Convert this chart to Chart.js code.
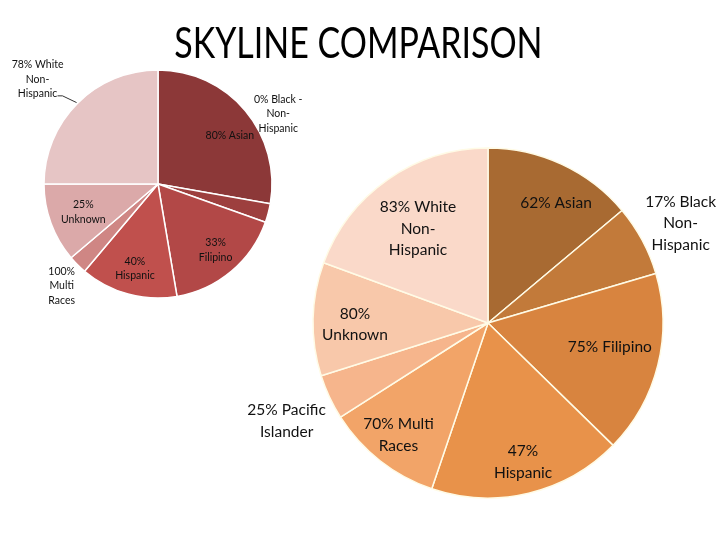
<!DOCTYPE html>
<html>
<head>
<meta charset="utf-8">
<script src="https://cdn.jsdelivr.net/npm/chart.js@4/dist/chart.umd.min.js"></script>
<style>
  body { margin: 0; background: #fff; }
  #wrap { position: relative; width: 720px; height: 540px; overflow: hidden; }
  #wrap canvas { position: absolute; left: 0; top: 0; }
  #title {
    position: absolute; left: 0; width: 717px; top: 20px;
    text-align: center; font-family: Lato, sans-serif; font-size: 43px;
    line-height: 43px; color: #000;
    transform: scaleX(0.79); transform-origin: 358px 0;
  }
</style>
</head>
<body>
<div id="wrap">
  <canvas id="left" width="720" height="540"></canvas>
  <canvas id="right" width="720" height="540"></canvas>
  <div id="title">SKYLINE COMPARISON</div>
</div>
<script>
// slice shares (clockwise from 12 o'clock)
const leftCategories = ['Asian', 'Black Non-Hispanic', 'Filipino', 'Hispanic', 'Multi Races', 'Unknown', 'White Non-Hispanic'];
const leftValues = [100, 9.6, 60.8, 49.7, 9.6, 40.3, 90];
const leftLabels = [
  ['80% Asian'],
  ['0% Black -', 'Non-', 'Hispanic'],
  ['33%', 'Filipino'],
  ['40%', 'Hispanic'],
  ['100%', 'Multi', 'Races'],
  ['25%', 'Unknown'],
  ['78% White', 'Non-', 'Hispanic'],
];

const rightCategories = ['Asian', 'Black Non-Hispanic', 'Filipino', 'Hispanic', 'Multi Races', 'Pacific Islander', 'Unknown', 'White Non-Hispanic'];
const rightValues = [50, 23.6, 60.8, 64.4, 38.7, 15, 37.7, 69.9];
const rightLabels = [
  ['62% Asian'],
  ['17% Black', 'Non-', 'Hispanic'],
  ['75% Filipino'],
  ['47%', 'Hispanic'],
  ['70% Multi', 'Races'],
  ['25% Pacific', 'Islander'],
  ['80%', 'Unknown'],
  ['83% White', 'Non-', 'Hispanic'],
];

const leftColors = ['#8c3838', '#9d3f3e', '#b24847', '#c0504d', '#cf8684', '#dba9a9', '#e6c5c5'];
const rightColors = ['#a86a32', '#c27a3a', '#d8843f', '#e8924a', '#f2a468', '#f6b58c', '#f8c8aa', '#fad9c9'];

// label placement: [radius factor, angle shift in degrees from slice middle]
const leftPlace = [[0.76, 6], [1.22, -45], [0.77, -1], [0.77, 0], [1.23, -1.5], [0.70, -0.5], [1.40, -4]];
const rightPlace = [[0.79, 4.5], [1.24, 0.8], [0.71, -2.7], [0.82, -0.7], [0.82, 0.5], [1.28, -0.9], [0.76, -1.9], [0.67, -1.7]];

const sliceLabels = {
  id: 'sliceLabels',
  afterDatasetsDraw(chart, args, opts) {
    const ctx = chart.ctx;
    const arcs = chart.getDatasetMeta(0).data;
    ctx.save();
    ctx.fillStyle = '#111';
    ctx.font = opts.size + 'px Lato, sans-serif';
    ctx.textAlign = 'center';
    ctx.textBaseline = 'middle';
    arcs.forEach((arc, i) => {
      const mid = (arc.startAngle + arc.endAngle) / 2;
      const [k, shift] = opts.place[i];
      const a = mid + shift * Math.PI / 180;
      const x = arc.x + Math.cos(a) * arc.outerRadius * k;
      const y = arc.y + Math.sin(a) * arc.outerRadius * k;
      const lines = opts.labels[i];
      const top = y - (lines.length - 1) * opts.lineHeight / 2;
      lines.forEach((t, j) => ctx.fillText(t, x, top + j * opts.lineHeight));
      if (opts.leader === i) {
        // short leader from label to the slice edge
        ctx.strokeStyle = '#333';
        ctx.lineWidth = 1;
        ctx.beginPath();
        ctx.moveTo(arc.x + Math.cos(mid) * arc.outerRadius * 1.01, arc.y + Math.sin(mid) * arc.outerRadius * 1.01);
        const ex = arc.x + Math.cos(mid - 0.04) * arc.outerRadius * 1.14;
        const ey = arc.y + Math.sin(mid - 0.04) * arc.outerRadius * 1.14;
        ctx.lineTo(ex, ey);
        ctx.lineTo(ex - 5, ey);
        ctx.stroke();
      }
    });
    ctx.restore();
  }
};

function makePie(id, categories, values, colors, border, radius, pad, labelOpts) {
  return new Chart(document.getElementById(id), {
    type: 'pie',
    data: {
      labels: categories,
      datasets: [{
        data: values,
        backgroundColor: colors,
        borderColor: border,
        borderWidth: 1.5,
      }],
    },
    options: {
      responsive: false,
      animation: false,
      events: [],
      radius: radius,
      layout: { padding: pad },
      plugins: {
        legend: { display: false },
        tooltip: { enabled: false },
        sliceLabels: labelOpts,
      },
    },
    plugins: [sliceLabels],
  });
}

makePie('left', leftCategories, leftValues, leftColors, '#ffffff', 114,
  { left: 43, right: 447, top: 69, bottom: 241 },
  { labels: leftLabels, place: leftPlace, size: 10.5, lineHeight: 14.5, leader: 6 });

makePie('right', rightCategories, rightValues, rightColors, '#fffbe6', 175,
  { left: 312, right: 56, top: 147, bottom: 41 },
  { labels: rightLabels, place: rightPlace, size: 15.5, lineHeight: 21.5, leader: -1 });
</script>
</body>
</html>
